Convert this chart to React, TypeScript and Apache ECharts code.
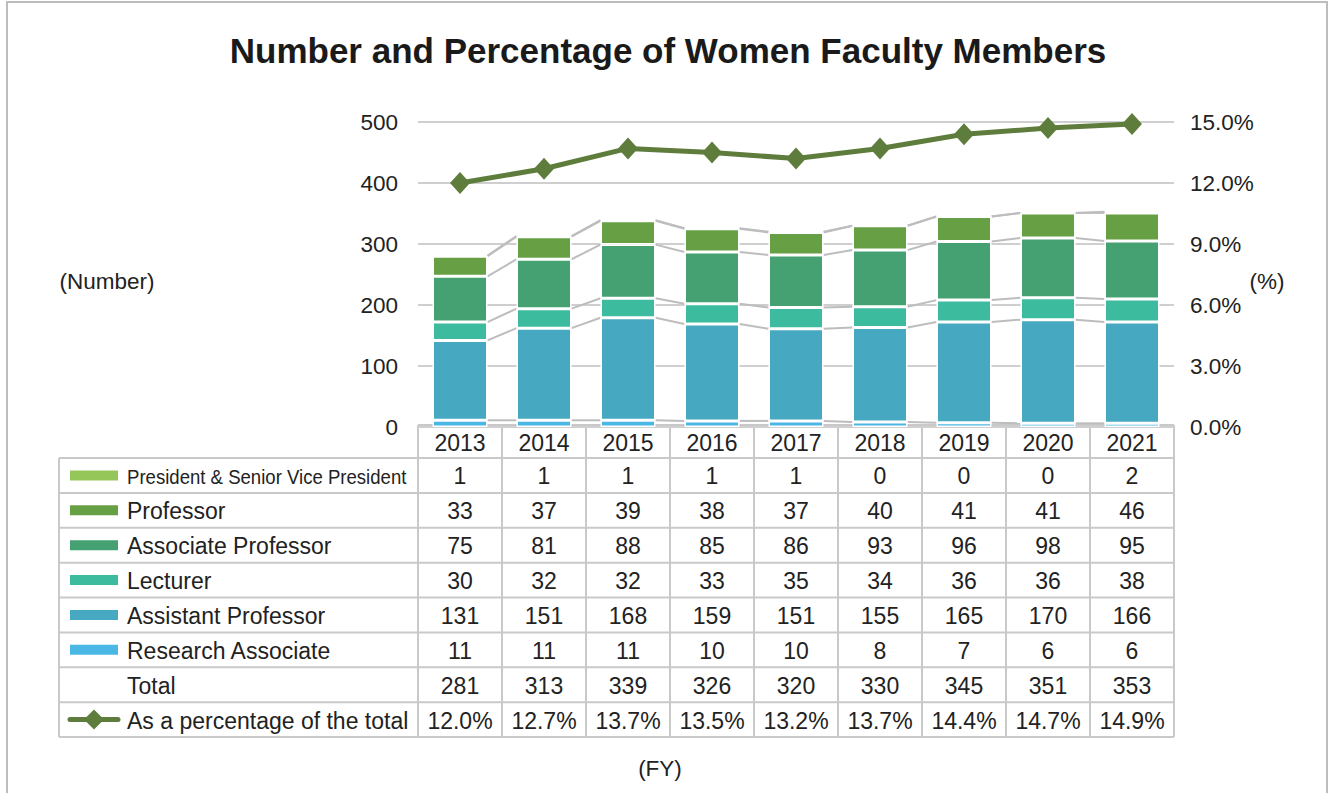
import React, { useEffect, useRef } from "react";
import * as echarts from "echarts";

const years = ["2013", "2014", "2015", "2016", "2017", "2018", "2019", "2020", "2021"];
const president = [1, 1, 1, 1, 1, 0, 0, 0, 2];
const professor = [33, 37, 39, 38, 37, 40, 41, 41, 46];
const associate = [75, 81, 88, 85, 86, 93, 96, 98, 95];
const lecturer = [30, 32, 32, 33, 35, 34, 36, 36, 38];
const assistant = [131, 151, 168, 159, 151, 155, 165, 170, 166];
const research = [11, 11, 11, 10, 10, 8, 7, 6, 6];
const totals = [281, 313, 339, 326, 320, 330, 345, 351, 353];
const percentages = [12.0, 12.7, 13.7, 13.5, 13.2, 13.7, 14.4, 14.7, 14.9];

const leftTicks = [0, 500, 100];
const rightTicks = [0, 15, 3];

const FONT = "'Liberation Sans', Arial, sans-serif";
const W = 1330;
const H = 793;
const GRID_L = 418;
const GRID_R = 1174;
const GRID_T = 122;
const GRID_B = 427;
const BAR_W = 55;

const stackSeries = [
  { name: "Research Associate", data: research, color: "#4AB7E4" },
  { name: "Assistant Professor", data: assistant, color: "#47A8C1" },
  { name: "Lecturer", data: lecturer, color: "#3CBB9F" },
  { name: "Associate Professor", data: associate, color: "#45A072" },
  { name: "Professor", data: professor, color: "#679F45" },
  { name: "President & Senior Vice President", data: president, color: "#95C65A" },
];

const cumulative: number[][] = [];
{
  let run = years.map(() => 0);
  for (const s of stackSeries) {
    run = run.map((v, i) => v + s.data[i]);
    cumulative.push(run.slice());
  }
}

const LINE_COLOR = "#5E7D3C";
const GRID_COLOR = "#CFCFCF";
const TABLE_COLOR = "#C9C9C9";
const TEXT_COLOR = "#222222";
const TABLE_FONT = 23;
const AXIS_FONT = 22.5;

function buildTable() {
  const els: any[] = [];
  const colW = (GRID_R - GRID_L) / years.length;
  const tableLeft = 59;
  const headTop = 425;
  const rowTop = 458;
  const rowH = (737 - 458) / 8;
  const rows: { label: string; values: string[]; color?: string; kind: string }[] = [
    { label: stackSeries[5].name, values: president.map(String), color: stackSeries[5].color, kind: "rect" },
    { label: stackSeries[4].name, values: professor.map(String), color: stackSeries[4].color, kind: "rect" },
    { label: stackSeries[3].name, values: associate.map(String), color: stackSeries[3].color, kind: "rect" },
    { label: stackSeries[2].name, values: lecturer.map(String), color: stackSeries[2].color, kind: "rect" },
    { label: stackSeries[1].name, values: assistant.map(String), color: stackSeries[1].color, kind: "rect" },
    { label: stackSeries[0].name, values: research.map(String), color: stackSeries[0].color, kind: "rect" },
    { label: "Total", values: totals.map(String), kind: "none" },
    { label: "As a percentage of the total", values: percentages.map((v) => v.toFixed(1) + "%"), kind: "line" },
  ];
  const lineStyle = { stroke: TABLE_COLOR, lineWidth: 2 };
  els.push({ type: "line", shape: { x1: GRID_L, y1: headTop, x2: GRID_R, y2: headTop }, style: lineStyle });
  for (let r = 0; r <= rows.length; r++) {
    const y = rowTop + r * rowH;
    els.push({ type: "line", shape: { x1: tableLeft, y1: y, x2: GRID_R, y2: y }, style: lineStyle });
  }
  els.push({ type: "line", shape: { x1: tableLeft, y1: rowTop, x2: tableLeft, y2: rowTop + rows.length * rowH }, style: lineStyle });
  for (let c = 0; c <= years.length; c++) {
    const x = GRID_L + c * colW;
    els.push({ type: "line", shape: { x1: x, y1: headTop, x2: x, y2: rowTop + rows.length * rowH }, style: lineStyle });
  }
  years.forEach((yr, c) => {
    els.push({
      type: "text",
      x: GRID_L + (c + 0.5) * colW,
      y: (headTop + rowTop) / 2 + 1,
      style: { text: yr, font: `${TABLE_FONT}px ${FONT}`, fill: TEXT_COLOR, align: "center", verticalAlign: "middle" },
    });
  });
  rows.forEach((row, r) => {
    const cy = rowTop + (r + 0.5) * rowH;
    if (row.kind === "rect") {
      els.push({ type: "rect", shape: { x: 70, y: cy - 5, width: 48, height: 10 }, style: { fill: row.color } });
    } else if (row.kind === "line") {
      els.push({ type: "line", shape: { x1: 70, y1: cy, x2: 118, y2: cy }, style: { stroke: LINE_COLOR, lineWidth: 5, lineCap: "round" } });
      els.push({ type: "polygon", shape: { points: [[94, cy - 10], [104, cy], [94, cy + 10], [84, cy]] }, style: { fill: LINE_COLOR } });
    }
    const isPres = r === 0;
    els.push({
      type: "text",
      x: 127,
      y: cy + 1,
      scaleX: isPres ? 0.885 : 1,
      style: { text: row.label, font: `${isPres ? 21 : TABLE_FONT}px ${FONT}`, fill: TEXT_COLOR, align: "left", verticalAlign: "middle" },
    });
    row.values.forEach((v, c) => {
      els.push({
        type: "text",
        x: GRID_L + (c + 0.5) * colW,
        y: cy + 1,
        style: { text: v, font: `${TABLE_FONT}px ${FONT}`, fill: TEXT_COLOR, align: "center", verticalAlign: "middle" },
      });
    });
  });
  return els;
}

export default function App() {
  const ref = useRef<HTMLDivElement>(null);
  useEffect(() => {
    document.body.style.margin = "0";
    if (!ref.current) return;
    const chart = echarts.init(ref.current, undefined, { renderer: "svg" });
    const option: any = {
      animation: false,
      backgroundColor: "#ffffff",
      textStyle: { fontFamily: FONT },
      grid: { left: GRID_L, right: W - GRID_R, top: GRID_T, bottom: H - GRID_B },
      xAxis: {
        type: "category",
        data: years,
        axisLabel: { show: false },
        axisLine: { show: false },
        axisTick: { show: false },
      },
      yAxis: [
        {
          type: "value",
          min: leftTicks[0],
          max: leftTicks[1],
          interval: leftTicks[2],
          axisLabel: { fontSize: AXIS_FONT, color: TEXT_COLOR, margin: 20, fontFamily: FONT },
          axisLine: { show: false },
          axisTick: { show: false },
          splitLine: { lineStyle: { color: GRID_COLOR, width: 2 } },
        },
        {
          type: "value",
          min: rightTicks[0],
          max: rightTicks[1],
          interval: rightTicks[2],
          axisLabel: {
            fontSize: AXIS_FONT,
            color: TEXT_COLOR,
            margin: 16,
            fontFamily: FONT,
            formatter: (v: number) => v.toFixed(1) + "%",
          },
          axisLine: { show: false },
          axisTick: { show: false },
          splitLine: { show: false },
        },
      ],
      series: [
        ...stackSeries.map((s) => ({
          type: "bar",
          name: s.name,
          stack: "total",
          data: s.data,
          barWidth: BAR_W,
          itemStyle: { color: s.color, borderColor: "#ffffff", borderWidth: 1.5 },
          z: 3,
        })),
        {
          type: "custom",
          name: "connectors",
          data: years.slice(0, -1).map((_, i) => [i, 0]),
          renderItem: (params: any, api: any) => {
            const i = params.dataIndex;
            const half = BAR_W / 2;
            return {
              type: "group",
              children: cumulative.map((cum) => {
                const p1 = api.coord([i, cum[i]]);
                const p2 = api.coord([i + 1, cum[i + 1]]);
                return {
                  type: "line",
                  shape: { x1: p1[0] + half, y1: p1[1], x2: p2[0] - half, y2: p2[1] },
                  style: { stroke: "#BDBDBD", lineWidth: 2 },
                };
              }),
            };
          },
          z: 2,
          silent: true,
        },
        {
          type: "line",
          name: "As a percentage of the total",
          yAxisIndex: 1,
          data: percentages,
          symbol: "diamond",
          symbolSize: [20, 22],
          lineStyle: { color: LINE_COLOR, width: 5 },
          itemStyle: { color: LINE_COLOR },
          z: 5,
        },
      ],
      graphic: [
        {
          type: "rect",
          shape: { x: 7, y: 2, width: 1320, height: 810 },
          style: { fill: "none", stroke: "#BDBDBD", lineWidth: 2 },
          z: -10,
        },
        {
          type: "text",
          x: 668,
          y: 50,
          style: { text: "Number and Percentage of Women Faculty Members", font: `bold 35px ${FONT}`, fill: "#1a1a1a", align: "center", verticalAlign: "middle" },
        },
        {
          type: "text",
          x: 107,
          y: 281,
          style: { text: "(Number)", font: `22.5px ${FONT}`, fill: TEXT_COLOR, align: "center", verticalAlign: "middle" },
        },
        {
          type: "text",
          x: 1267,
          y: 281,
          style: { text: "(%)", font: `22.5px ${FONT}`, fill: TEXT_COLOR, align: "center", verticalAlign: "middle" },
        },
        {
          type: "text",
          x: 660,
          y: 768,
          style: { text: "(FY)", font: `22.5px ${FONT}`, fill: TEXT_COLOR, align: "center", verticalAlign: "middle" },
        },
        ...buildTable(),
      ],
    };
    chart.setOption(option);
    return () => chart.dispose();
  }, []);
  return <div ref={ref} style={{ width: W, height: H }} />;
}
